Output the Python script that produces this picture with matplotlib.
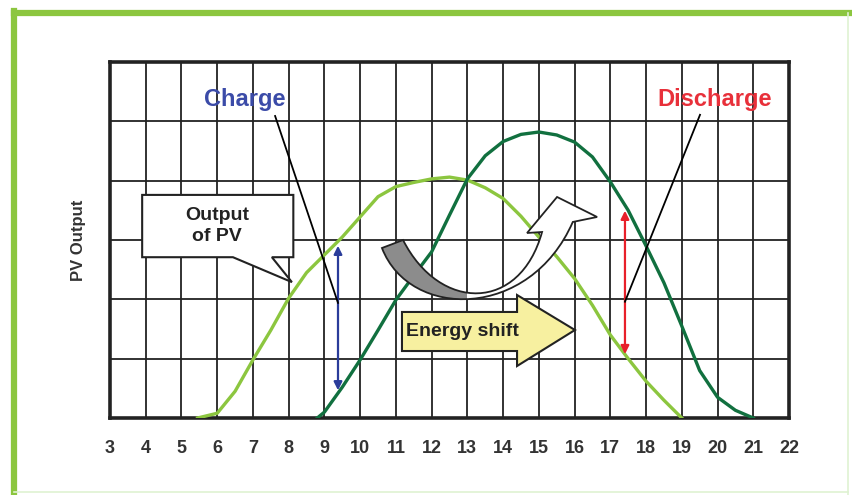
import matplotlib
matplotlib.use("Agg")
import matplotlib.pyplot as plt
from matplotlib.lines import Line2D
from matplotlib.patches import Polygon, PathPatch, Rectangle
from matplotlib.path import Path

plt.rcParams["font.family"] = ["Liberation Sans", "DejaVu Sans"]
plt.rcParams["font.weight"] = "bold"

hours = list(range(3, 23))

# PV output (light green)
pv_hours = [5.45, 6.0, 6.5, 7.0, 7.5, 8.0, 8.5, 9.0, 9.5, 10.0, 10.5, 11.0, 11.5, 12.0,
            12.5, 13.0, 13.5, 14.0, 14.5, 15.0, 15.5, 16.0, 16.5, 17.0, 17.5, 18.0, 18.5, 19.0]
pv_output = [0.0, 0.08, 0.45, 0.98, 1.48, 2.02, 2.45, 2.75, 3.05, 3.39, 3.73, 3.9, 3.97, 4.03,
             4.06, 4.01, 3.88, 3.7, 3.4, 3.05, 2.72, 2.35, 1.9, 1.4, 1.0, 0.62, 0.3, 0.0]

# shifted output (dark green)
shift_hours = [8.8, 9.0, 9.5, 10.0, 10.5, 11.0, 11.5, 12.0, 12.5, 13.0, 13.5, 14.0, 14.5,
               15.0, 15.5, 16.0, 16.5, 17.0, 17.5, 18.0, 18.5, 19.0, 19.5, 20.0, 20.5, 21.0]
shift_output = [0.0, 0.1, 0.52, 0.98, 1.48, 1.99, 2.4, 2.8, 3.42, 4.03, 4.42, 4.66, 4.78,
                4.82, 4.77, 4.65, 4.4, 3.98, 3.5, 2.9, 2.28, 1.55, 0.8, 0.35, 0.13, 0.0]

charge_hour, charge_range = 9.38, (0.42, 2.95)
discharge_hour, discharge_range = 17.41, (1.03, 3.54)

fig = plt.figure(figsize=(8.52, 4.95), dpi=100)
ax = fig.add_axes([110 / 852, 77 / 495, 679 / 852, 356 / 495])

ax.set_xlim(3, 22)
ax.set_ylim(0, 6)
ax.set_xticks(hours)
ax.set_yticks(range(7))
ax.set_yticklabels([])
ax.tick_params(axis="both", length=0)
ax.tick_params(axis="x", pad=16, labelsize=13, labelcolor="#333333")
ax.grid(True, color="#222222", linewidth=1.3)
ax.set_axisbelow(True)
for s in ax.spines.values():
    s.set_linewidth(2.6)
    s.set_color("#222222")
ax.set_ylabel("PV Output", fontsize=12, fontweight="bold", color="#333333", labelpad=14)

ax.plot(pv_hours, pv_output, color="#8cc63f", lw=2.4, zorder=3)
ax.plot(shift_hours, shift_output, color="#11703f", lw=2.4, zorder=3)

# charge / discharge arrows
ax.annotate("", xy=(charge_hour, charge_range[0]), xytext=(charge_hour, charge_range[1]),
            arrowprops=dict(arrowstyle="<|-|>", color="#2a3c9a", lw=1.6, mutation_scale=12),
            zorder=4)
ax.annotate("", xy=(discharge_hour, discharge_range[0]), xytext=(discharge_hour, discharge_range[1]),
            arrowprops=dict(arrowstyle="<|-|>", color="#e8202a", lw=1.6, mutation_scale=12),
            zorder=4)

ax.text(6.78, 5.36, "Charge", color="#3b4ba8", fontsize=17, ha="center", va="center", zorder=5)
ax.text(19.93, 5.36, "Discharge", color="#e8303a", fontsize=17, ha="center", va="center", zorder=5)
ax.plot([7.62, charge_hour], [5.09, 1.94], color="black", lw=1.3, zorder=5)
ax.plot([19.51, discharge_hour], [5.11, 1.96], color="black", lw=1.3, zorder=5)

# "Output of PV" callout
callout = Polygon([(3.9, 3.76), (8.13, 3.76), (8.13, 2.71), (7.53, 2.71), (8.09, 2.29),
                   (6.44, 2.71), (3.9, 2.71)], closed=True, facecolor="white",
                  edgecolor="#222222", lw=1.5, zorder=5)
ax.add_patch(callout)
ax.text(5.99, 3.24, "Output\nof PV", fontsize=14, ha="center", va="center",
        linespacing=1.3, color="#222222", zorder=6)

# curved shift arrow
verts = [(10.61, 2.865), (11.39, 1.65), (14.75, 1.65), (15.95, 3.304),
         (16.63, 3.388), (15.51, 3.725), (14.67, 3.118), (15.09, 3.135),
         (14.47, 1.78), (12.23, 1.78), (11.20, 3.0), (10.61, 2.865)]
codes = [Path.MOVETO, Path.CURVE4, Path.CURVE4, Path.CURVE4,
         Path.LINETO, Path.LINETO, Path.LINETO, Path.LINETO,
         Path.CURVE4, Path.CURVE4, Path.CURVE4, Path.CLOSEPOLY]
bend = Path(verts, codes)
ax.add_patch(PathPatch(bend, facecolor="white", edgecolor="none", zorder=6))
gray = PathPatch(bend, facecolor="#8c8c8c", edgecolor="none", zorder=6)
ax.add_patch(gray)
gray.set_clip_path(Rectangle((3, 0), 10.0, 6, transform=ax.transData))
ax.add_patch(PathPatch(bend, facecolor="none", edgecolor="#222222", lw=1.3, zorder=7))

# energy shift arrow
shift_arrow = Polygon([(11.17, 1.787), (14.39, 1.787), (14.39, 2.073), (16.01, 1.483),
                       (14.39, 0.876), (14.39, 1.129), (11.17, 1.129)], closed=True,
                      facecolor="#f7f0a0", edgecolor="#222222", lw=1.5, zorder=6)
ax.add_patch(shift_arrow)
ax.text(12.85, 1.46, "Energy shift", fontsize=14, ha="center", va="center",
        color="#222222", zorder=7)

# green frame
fig.add_artist(Line2D([14 / 852, 1], [1 - 13 / 495, 1 - 13 / 495], color="#8cc63f", lw=4.5,
                      transform=fig.transFigure))
fig.add_artist(Line2D([14 / 852, 14 / 852], [0, 1 - 11 / 495], color="#8cc63f", lw=4.5,
                      transform=fig.transFigure))
fig.add_artist(Line2D([848 / 852, 848 / 852], [0, 1 - 13 / 495], color="#dff2d2", lw=1.2,
                      transform=fig.transFigure))
fig.add_artist(Line2D([14 / 852, 848 / 852], [3 / 495, 3 / 495], color="#dff2d2", lw=1.2,
                      transform=fig.transFigure))

fig.savefig("out.png", dpi=100)
